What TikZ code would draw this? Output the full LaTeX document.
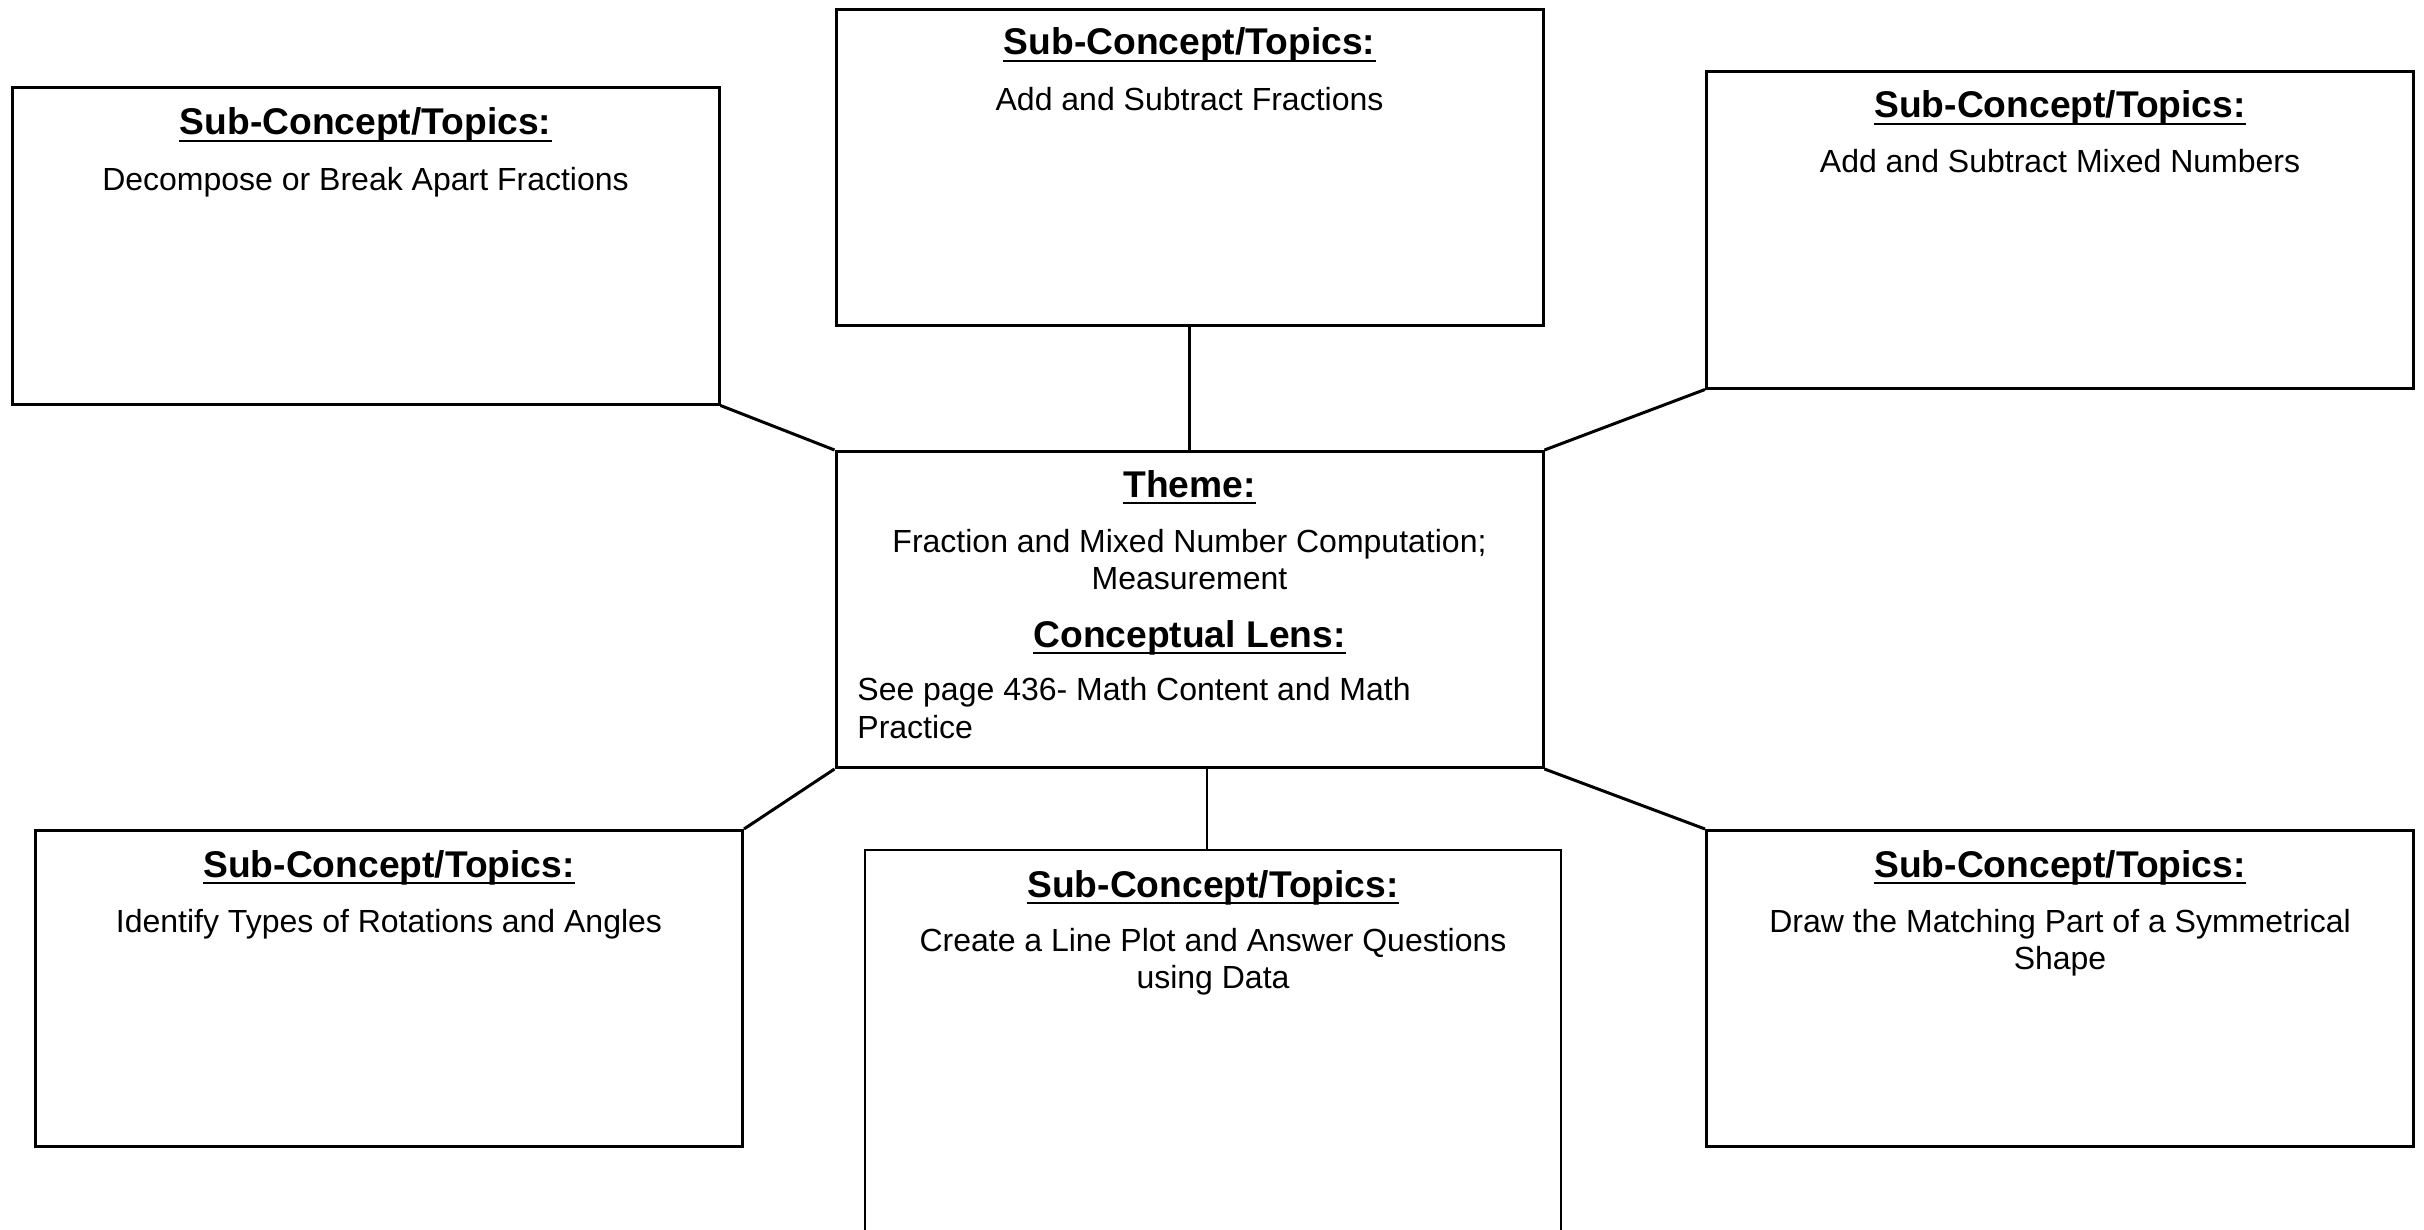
\documentclass[tikz,border=0pt]{standalone}
\usepackage{fontspec}
\setmainfont{Liberation Sans}
\tikzset{
  x=0.5pt, y=-0.5pt,
  bx/.style={draw, line width=1.5pt, rectangle, inner sep=0pt, minimum width=353.5pt, minimum height=158pt},
  hd/.style={anchor=base, inner sep=0pt, font=\fontsize{18.6}{22}\selectfont\bfseries},
  bd/.style={anchor=base, inner sep=0pt, font=\fontsize{16}{18.4}\selectfont},
  link/.style={line width=1.5pt},
  uline/.style={line width=1.3pt},
}
\begin{document}
\begin{tikzpicture}
\useasboundingbox (0,0) rectangle (2424,1230);
\clip (0,0) rectangle (2424,1230);
% boxes
\node[bx] (tl) at (365.5,246) {};
\node[bx] (tc) at (1189.5,167.5) {};
\node[bx] (tr) at (2060,230) {};
\node[bx] (c) at (1189.5,609.5) {};
\node[bx] (bl) at (389,988.5) {};
\node[bx] (br) at (2060,988.5) {};
\node[bx, line width=1pt, minimum width=348pt, minimum height=210pt] (bc) at (1213,1060) {};
% connectors
\draw[link] (tl.south east) -- (c.north west);
\draw[link] (tc.south) -- (c.north);
\draw[link] (tr.south west) -- (c.north east);
\draw[link] (c.south west) -- (bl.north east);
\draw[link] (c.south east) -- (br.north west);
\draw[line width=1pt] ([xshift=-3pt]bc.north |- c.south) -- ([xshift=-3pt]bc.north);
% texts
\node[hd] (tlh) at (365.5,135) {Sub-Concept/Topics:};
\node[bd] (tlb) at (365.5,191) {Decompose or Break Apart Fractions};
\node[hd] (tch) at (1189.5,55) {Sub-Concept/Topics:};
\node[bd] (tcb) at (1189.5,111) {Add and Subtract Fractions};
\node[hd] (trh) at (2060,118) {Sub-Concept/Topics:};
\node[bd] (trb) at (2060,173) {Add and Subtract Mixed Numbers};
\node[hd] (ch1) at (1189.5,497) {Theme:};
\node[bd] (cb1) at (1189.5,552) {Fraction and Mixed Number Computation;};
\node[bd] (cb2) at (1189.5,589) {Measurement};
\node[hd] (ch2) at (1189.5,647) {Conceptual Lens:};
\node[bd, anchor=base west] (cb3) at (857,700) {See page 436- Math Content and Math};
\node[bd, anchor=base west] (cb4) at (857,738) {Practice};
\node[hd] (blh) at (389,877) {Sub-Concept/Topics:};
\node[bd] (blb) at (389,932) {Identify Types of Rotations and Angles};
\node[hd] (bch) at (1213,897) {Sub-Concept/Topics:};
\node[bd] (bcb1) at (1213,951) {Create a Line Plot and Answer Questions};
\node[bd] (bcb2) at (1213,988) {using Data};
\node[hd] (brh) at (2060,877) {Sub-Concept/Topics:};
\node[bd] (brb1) at (2060,932) {Draw the Matching Part of a Symmetrical};
\node[bd] (brb2) at (2060,969) {Shape};
% underlines
\foreach \n in {tlh,tch,trh,ch1,ch2,blh,bch,brh}
  \draw[uline] ([yshift=-3pt]\n.base west) -- ([yshift=-3pt]\n.base east);
\end{tikzpicture}
\end{document}
